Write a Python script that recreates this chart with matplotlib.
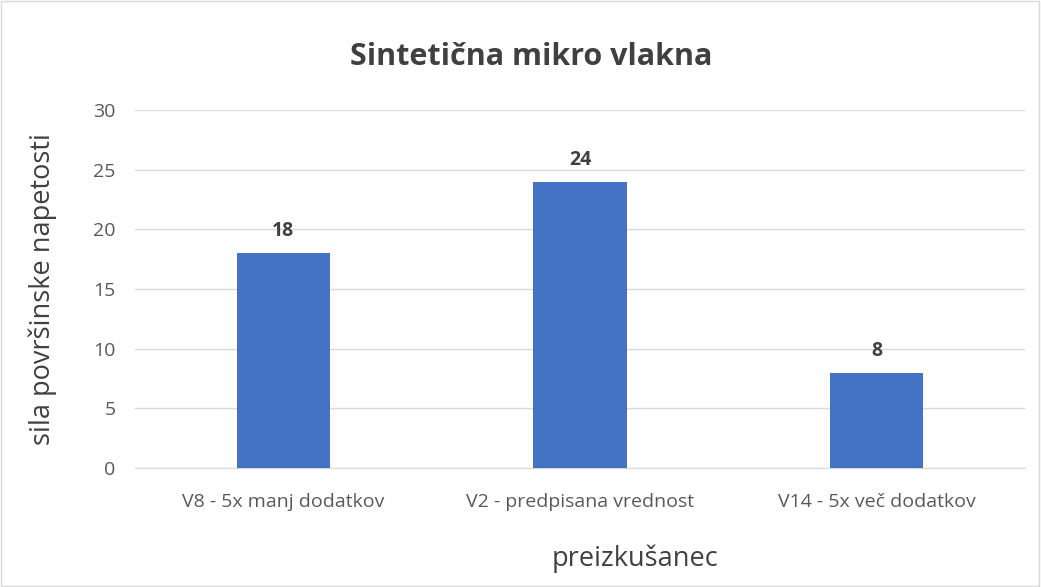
import matplotlib.pyplot as plt
import matplotlib as mpl
from matplotlib.patches import Rectangle

mpl.rcParams['font.family'] = ['Open Sans', 'DejaVu Sans']

categories = ['V8 - 5x manj dodatkov', 'V2 - predpisana vrednost', 'V14 - 5x več dodatkov']
values = [18, 24, 8]
y_ticks = [0, 5, 10, 15, 20, 25, 30]

fig = plt.figure(figsize=(10.41, 5.87), dpi=100)
ax = fig.add_axes([0.1297, 0.2027, 0.8549, 0.6099])

x = list(range(len(categories)))
ax.bar(x, values, width=0.315, color='#4472C4', zorder=3)
for i, v in enumerate(values):
    ax.text(i, v + 1.0, str(v), ha='center', va='bottom', fontsize=14,
            fontweight='bold', color='#404040')

ax.set_xlim(-0.5, len(categories) - 0.5)
ax.set_ylim(0, 30)
ax.set_yticks(y_ticks)
ax.set_xticks(x)
ax.set_xticklabels(categories)
ax.tick_params(axis='both', length=0, labelsize=14, colors='#595959')
ax.tick_params(axis='x', pad=18)
ax.tick_params(axis='y', pad=14)
ax.yaxis.grid(True, color='#D9D9D9', linewidth=1, zorder=0)
for s in ['top', 'right', 'left']:
    ax.spines[s].set_visible(False)
ax.spines['bottom'].set_color('#D9D9D9')

ax.set_ylabel('sila površinske napetosti', fontsize=19.5, color='#404040', labelpad=26)
ax.set_xlabel('preizkušanec', fontsize=19.5, color='#404040')
ax.xaxis.set_label_coords(0.562, -0.214)
fig.text(0.51, 0.903, 'Sintetična mikro vlakna', ha='center', va='center',
         fontsize=22, fontweight='bold', color='#404040')

fig.patches.append(Rectangle((0.001, 0.001), 0.997, 0.997, transform=fig.transFigure,
                             fill=False, edgecolor='#D9D9D9', linewidth=1))

fig.savefig('out.png', dpi=100)
